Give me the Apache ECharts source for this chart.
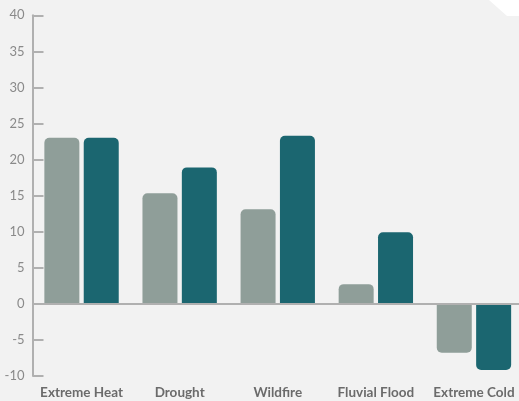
<!DOCTYPE html>
<html><head><meta charset="utf-8">
<script src="https://cdn.jsdelivr.net/npm/echarts@6/dist/echarts.min.js"></script>
<style>html,body{margin:0;padding:0;background:#f2f2f2}#c{width:519px;height:401px}</style>
</head><body><div id="c"></div>
<script>
const categories = ['Extreme Heat', 'Drought', 'Wildfire', 'Fluvial Flood', 'Extreme Cold'];
const seriesA = [23.0, 15.3, 13.1, 2.7, -6.8];
const seriesB = [23.0, 18.9, 23.3, 9.9, -9.2];
const yTicks = [-10, 40, 5];

const chart = echarts.init(document.getElementById('c'));
const gray = '#8f9e99', teal = '#1b6670';
function bars(vals, color) {
  return vals.map(v => ({value: v, itemStyle: {color: color, borderRadius: v >= 0 ? [5,5,0,0] : [0,0,5,5]}}));
}
chart.setOption({
  backgroundColor: '#f2f2f2',
  animation: false,
  grid: {left: 32.5, right: -4, top: 15.3, bottom: 25.3, containLabel: false, outerBoundsMode: 'none'},
  graphic: [{type: 'polygon', shape: {points: [[489,0],[519,0],[519,16],[507,16]]}, style: {fill: '#ffffff'}, z: 0}],
  xAxis: {
    type: 'category', data: categories,
    axisLine: {show: false}, axisTick: {show: false},
    axisLabel: {fontFamily: 'Lato', fontWeight: 'bold', fontSize: 13.5, color: '#6b6b6b', margin: 10, interval: 0}
  },
  yAxis: {
    type: 'value', min: yTicks[0], max: yTicks[1], interval: yTicks[2],
    axisLine: {show: true, lineStyle: {color: '#b0b0b0', width: 2}},
    axisTick: {show: true, inside: true, length: 11, lineStyle: {color: '#b0b0b0', width: 2}},
    splitLine: {show: false},
    axisLabel: {fontFamily: 'Lato', fontSize: 13, color: '#8a8a8a', margin: 8}
  },
  series: [
    {type: 'bar', data: bars(seriesA, gray), barWidth: 35, barGap: '12.5%',
     markLine: {silent: true, symbol: 'none', label: {show: false},
       lineStyle: {color: '#b0b0b0', width: 2, type: 'solid'}, data: [{yAxis: 0}]}},
    {type: 'bar', data: bars(seriesB, teal), barWidth: 35, barGap: '12.5%'}
  ]
});
</script></body></html>
